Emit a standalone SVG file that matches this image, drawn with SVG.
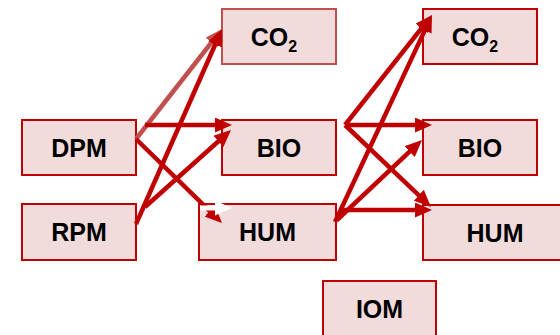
<svg xmlns="http://www.w3.org/2000/svg" width="560" height="335" viewBox="0 0 560 335">
<style>
.box{fill:#f2dcdb;stroke:#c00000;stroke-width:2}
.box2{fill:#f2dcdb;stroke:#c0504d;stroke-width:2}
.lbl{font-family:"Liberation Sans",Arial,sans-serif;font-weight:bold;font-size:25px;fill:#000;text-anchor:middle}
.c{fill:none;stroke:#c00000;stroke-width:4.5}
.cl{fill:none;stroke:#c0504d;stroke-width:4.5}
.cw{fill:none;stroke:#ffffff;stroke-width:5}
</style>
<defs>
<marker id="ah" markerUnits="userSpaceOnUse" markerWidth="17" markerHeight="15" viewBox="0 0 17 15" refX="5" refY="7.5" orient="auto"><path d="M0,0 L17,7.5 L0,15 z" fill="#c00000"/></marker>
<marker id="ahl" markerUnits="userSpaceOnUse" markerWidth="17" markerHeight="15" viewBox="0 0 17 15" refX="5" refY="7.5" orient="auto"><path d="M0,0 L17,7.5 L0,15 z" fill="#c0504d"/></marker>
<marker id="ahw" markerUnits="userSpaceOnUse" markerWidth="17" markerHeight="15" viewBox="0 0 17 15" refX="5" refY="7.5" orient="auto"><path d="M0,0 L17,7.5 L0,15 z" fill="#ffffff"/></marker>
</defs>
<g id="co2a"><rect class="box2" x="222" y="9" width="114" height="55"/><text class="lbl" x="274" y="46">CO<tspan font-size="16" dy="6">2</tspan></text></g>
<g id="dpm"><rect class="box" x="22" y="120" width="114" height="55"/><text class="lbl" x="79" y="156.5">DPM</text></g>
<g id="bioa"><rect class="box" x="222" y="120" width="114" height="55"/><text class="lbl" x="279" y="156.5">BIO</text></g>
<g id="rpm"><rect class="box" x="22" y="204" width="114" height="56"/><text class="lbl" x="79" y="241">RPM</text></g>
<g id="huma"><rect class="box" x="199" y="204" width="137" height="56"/><text class="lbl" x="267.5" y="241">HUM</text></g>
<g id="co2b"><rect class="box" x="423" y="9" width="114" height="55"/><text class="lbl" x="475" y="46">CO<tspan font-size="16" dy="6">2</tspan></text></g>
<g id="biob"><rect class="box" x="423" y="120" width="114" height="55"/><text class="lbl" x="480" y="156.5">BIO</text></g>
<g id="humb"><rect class="box" x="423" y="205" width="144" height="55"/><text class="lbl" x="495" y="242">HUM</text></g>
<g id="iom"><rect class="box" x="323" y="281" width="113" height="56"/><text class="lbl" x="379.5" y="318">IOM</text></g>
<g id="connectors">
<line class="cl" x1="136" y1="139" x2="214.6" y2="38.5" marker-end="url(#ahl)"/>
<line class="c" x1="145" y1="125" x2="220" y2="125" marker-end="url(#ah)"/>
<line class="c" x1="136" y1="139" x2="213.4" y2="214.6" marker-end="url(#ah)"/>
<line class="c" x1="136" y1="224" x2="217.2" y2="40" marker-end="url(#ah)"/>
<line class="c" x1="145" y1="207" x2="222.1" y2="138" marker-end="url(#ah)"/>
<line class="cw" x1="200" y1="208" x2="220" y2="208" marker-end="url(#ahw)"/>
<line class="c" x1="345" y1="125" x2="424.6" y2="24.4" marker-end="url(#ah)"/>
<line class="c" x1="345" y1="125" x2="420" y2="125" marker-end="url(#ah)"/>
<line class="c" x1="345" y1="125" x2="422.3" y2="198.7" marker-end="url(#ah)"/>
<line class="c" x1="335" y1="222" x2="426.9" y2="25.9" marker-end="url(#ah)"/>
<line class="c" x1="337" y1="220" x2="413.3" y2="148.2" marker-end="url(#ah)"/>
<line class="c" x1="340" y1="210" x2="420" y2="210" marker-end="url(#ah)"/>
</g>
</svg>
